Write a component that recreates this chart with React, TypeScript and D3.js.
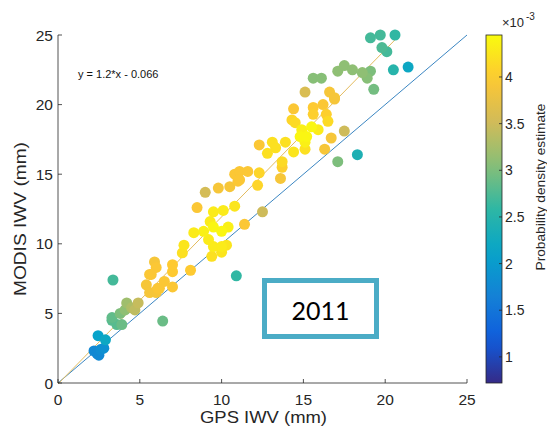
import React from 'react';
import * as d3 from 'd3';

// GPS IWV (mm), MODIS IWV (mm), density estimate (x 1e-3)
const gpsIwv = [
  2.2, 2.4, 2.6, 2.5, 2.8, 2.45, 2.9, 3.36, 3.3, 3.6, 3.9, 3.3, 3.8, 4.1, 4.2, 4.5, 4.9, 4.7, 6.4,
  5.4, 5.6, 5.9, 6.0, 5.7, 6.2, 6.5, 7.0, 7.0, 7.0, 5.6, 6.0, 6.1, 7.6, 7.7, 8.1, 8.3, 8.9, 9.5,
  10.0, 10.4, 9.5, 10.0, 10.3, 9.4, 10.0, 8.5, 9.5, 10.1, 10.8, 12.5, 11.4, 10.9, 9.0, 9.8, 10.5,
  11.0, 12.2, 9.3, 9.2, 10.8, 11.1, 11.6, 12.3, 11.1, 13.6, 12.3, 13.1, 13.9, 12.8, 13.3, 14.4,
  15.1, 13.7, 13.7, 14.4, 15.6, 16.2, 16.9, 15.6, 16.4, 14.3, 14.5, 16.5, 14.9, 15.5, 15.9, 14.8,
  15.2, 15.1, 17.5, 16.7, 16.3, 17.1, 18.3, 15.1, 15.6, 16.1, 17.1, 17.5, 18.0, 18.6, 19.1, 18.9,
  19.3, 16.6, 16.9, 19.1, 19.7, 20.6, 19.8, 20.1, 20.5, 21.4,
];
const modisIwv = [
  2.3, 2.1, 2.4, 2.0, 2.5, 3.4, 3.1, 7.4, 4.5, 4.2, 4.2, 4.7, 5.0, 5.25, 5.75, 5.4, 5.75, 5.25, 4.45,
  7.05, 7.8, 8.7, 8.3, 7.8, 6.8, 7.3, 6.9, 8.0, 8.5, 6.5, 6.5, 6.8, 9.35, 9.9, 8.1, 10.8, 10.9, 11.2,
  10.9, 11.2, 9.8, 9.8, 9.9, 9.1, 9.4, 12.6, 12.3, 12.4, 12.7, 12.3, 11.4, 7.7, 13.7, 14.0, 14.1,
  14.5, 14.2, 11.6, 10.3, 15.0, 15.2, 15.2, 15.1, 14.6, 14.7, 17.1, 17.3, 17.3, 16.5, 16.9, 16.6,
  16.8, 15.9, 15.5, 19.7, 19.8, 20.0, 20.4, 19.3, 19.3, 18.9, 18.7, 18.8, 18.2, 18.4, 18.2, 17.7,
  17.7, 17.3, 18.1, 17.6, 16.8, 15.9, 16.4, 20.9, 21.9, 21.9, 22.4, 22.8, 22.5, 22.3, 22.4, 21.9,
  21.1, 20.9, 20.5, 24.8, 25.0, 25.0, 24.1, 23.8, 22.5, 22.7,
];
const density = [
  1.75, 1.75, 1.8, 1.75, 1.85, 2.1, 2.2, 2.7, 2.8, 2.8, 2.9, 2.85, 3.0, 3.1, 3.2, 3.3, 3.45, 3.4, 2.9,
  3.9, 3.95, 3.9, 3.95, 3.95, 3.95, 3.95, 3.95, 4.0, 4.0, 3.9, 3.9, 3.95, 4.2, 4.25, 4.0, 4.3, 4.35, 4.4,
  4.4, 4.35, 4.3, 4.3, 4.25, 4.2, 4.25, 3.95, 4.3, 4.3, 4.25, 3.5, 3.95, 2.6, 3.55, 3.9, 3.9,
  3.95, 4.1, 4.3, 4.3, 3.95, 3.95, 3.95, 4.1, 3.95, 3.9, 3.95, 4.2, 4.2, 4.2, 4.2, 4.25,
  4.2, 4.15, 4.05, 3.95, 4.0, 3.95, 3.9, 4.05, 4.05, 4.1, 4.15, 4.15, 4.35, 4.4, 4.3, 4.4,
  4.4, 4.35, 3.5, 3.9, 3.9, 3.0, 2.4, 3.6, 3.05, 3.05, 3.1, 3.1, 3.1, 3.1, 3.0, 3.05,
  2.95, 3.9, 3.9, 2.7, 2.7, 2.6, 2.75, 2.7, 2.5, 2.2,
];

const axisTicks = [0, 5, 10, 15, 20, 25];
const cbarTicks = [1, 1.5, 2, 2.5, 3, 3.5, 4];
const cbarDomain = [0.72, 4.45];
const fitSlope = 1.2;
const fitIntercept = -0.066;
const parula = ['#352a87', '#0f5cdd', '#1481d6', '#06a4ca', '#2eb7a4', '#87bf77', '#d1bb59', '#fec832', '#f9fb0e'];

const W = 547;
const H = 430;
const m = { left: 58, right: 467, top: 35, bottom: 383 };
const cb = { x: 486, w: 16 };
const font = '"Liberation Sans", Arial, sans-serif';
const axisColor = '#262626';

export default function App() {
  const x = d3.scaleLinear().domain([0, 25]).range([m.left, m.right]);
  const y = d3.scaleLinear().domain([0, 25]).range([m.bottom, m.top]);
  const cmap = d3.scaleLinear<string>()
    .domain(parula.map((_, i) => i / (parula.length - 1)))
    .range(parula)
    .interpolate(d3.interpolateRgb);
  const cs = d3.scaleLinear().domain(cbarDomain).range([0, 1]).clamp(true);
  const cy = d3.scaleLinear().domain(cbarDomain).range([m.bottom, m.top]);

  const pts = gpsIwv.map((g, i) => ({ g, mo: modisIwv[i], d: density[i] }))
    .sort((a, b) => a.d - b.d);

  const fitEnd = (25 - fitIntercept) / fitSlope;
  const gradStops = d3.range(0, 1.0001, 0.05);

  return (
    <div>
      <svg width={W} height={H} style={{ position: 'absolute', left: 0, top: 0, background: '#fff' }}>
        <defs>
          <linearGradient id="cbar" x1="0" y1="1" x2="0" y2="0">
            {gradStops.map(t => (
              <stop key={t} offset={t} stopColor={cmap(t)} />
            ))}
          </linearGradient>
        </defs>

        {/* 1:1 line */}
        <line x1={x(0)} y1={y(0)} x2={x(25)} y2={y(25)} stroke="#3b86c2" strokeWidth={1} />
        {/* fit line */}
        <line x1={x(0)} y1={y(fitIntercept)} x2={x(fitEnd)} y2={y(25)} stroke="#e3bb5e" strokeWidth={1} />

        {pts.map((p, i) => (
          <circle key={i} cx={x(p.g)} cy={y(p.mo)} r={5.5} fill={cmap(cs(p.d))} />
        ))}

        {/* axes */}
        <g stroke={axisColor} strokeWidth={0.8} fill="none">
          <line x1={m.left} y1={m.bottom} x2={m.right} y2={m.bottom} />
          <line x1={m.left} y1={m.bottom} x2={m.left} y2={m.top} />
          {axisTicks.map(t => (
            <g key={t}>
              <line x1={x(t)} y1={m.bottom} x2={x(t)} y2={m.bottom - 4} />
              <line x1={m.left} y1={y(t)} x2={m.left + 4} y2={y(t)} />
            </g>
          ))}
        </g>
        <g fontFamily={font} fontSize={15.5} fill={axisColor}>
          {axisTicks.map(t => (
            <text key={'x' + t} x={x(t)} y={405} textAnchor="middle">{t}</text>
          ))}
          {axisTicks.map(t => (
            <text key={'y' + t} x={m.left - 5} y={y(t) + 5.5} textAnchor="end">{t}</text>
          ))}
        </g>
        <text x={263.5} y={423} textAnchor="middle" fontFamily={font} fontSize={16.5} fill={axisColor}
          textLength={127} lengthAdjust="spacingAndGlyphs">GPS IWV (mm)</text>
        <text transform={`translate(26,219) rotate(-90)`} textAnchor="middle" fontFamily={font} fontSize={16.5} fill={axisColor}
          textLength={154} lengthAdjust="spacingAndGlyphs">MODIS IWV (mm)</text>

        <text x={78} y={78} fontFamily={font} fontSize={11} fill="#111">y = 1.2*x - 0.066</text>

        {/* year box */}
        <rect x={264.5} y={280.5} width={112} height={56} fill="#fff" stroke="#4bacc6" strokeWidth={5} />
        <text x={320.5} y={320} textAnchor="middle" fontFamily="Lato, 'Open Sans', sans-serif" fontSize={25} fill="#000">2011</text>

        {/* colorbar */}
        <rect x={cb.x} y={m.top} width={cb.w} height={m.bottom - m.top} fill="url(#cbar)" stroke={axisColor} strokeWidth={0.8} />
        <g stroke={axisColor} strokeWidth={0.8}>
          {cbarTicks.map(t => (
            <line key={t} x1={cb.x + cb.w} y1={cy(t)} x2={cb.x + cb.w - 3} y2={cy(t)} />
          ))}
        </g>
        <g fontFamily={font} fontSize={14} fill={axisColor}>
          {cbarTicks.map(t => (
            <text key={t} x={cb.x + cb.w + 3} y={cy(t) + 5}>{t}</text>
          ))}
          <text x={502} y={27} fontSize={13}>×10</text>
          <text x={526} y={20} fontSize={10}>-3</text>
        </g>
        <text transform={`translate(545,187) rotate(-90)`} textAnchor="middle" fontFamily={font} fontSize={13} fill={axisColor}
          textLength={167} lengthAdjust="spacingAndGlyphs">Probability density estimate</text>
      </svg>
    </div>
  );
}
